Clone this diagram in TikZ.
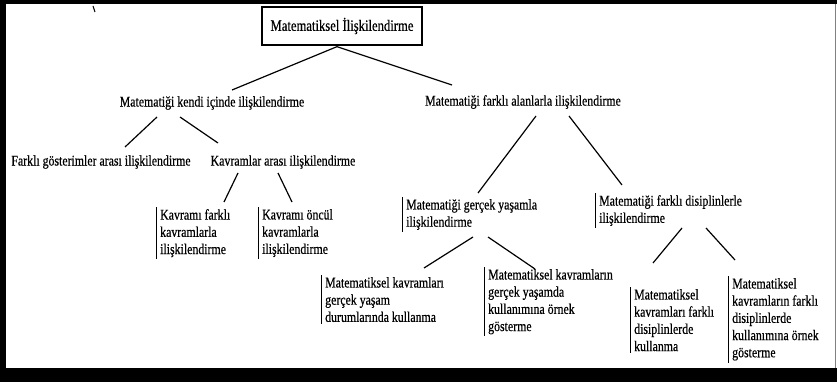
\documentclass[tikz,border=0pt]{standalone}
\usepackage{fontspec}
\setmainfont{Liberation Serif}[FakeStretch=0.8,FakeBold=0.5]
\usetikzlibrary{calc}
\tikzset{
  txt/.style={inner sep=0pt, font=\fontsize{14.8}{17}\selectfont},
  titlebox/.style={draw, line width=1.3pt, minimum width=160pt, minimum height=38pt, inner sep=0pt, font=\fontsize{15.8}{17}\selectfont},
  barbox/.style={anchor=north west, align=left, inner xsep=4pt, inner ysep=2pt,
    font=\fontsize{14.8}{17.2}\selectfont,
    append after command={(\tikzlastnode.north west) edge[barline] (\tikzlastnode.south west)}},
  barline/.style={draw, line width=1pt},
  link/.style={draw, line width=1.2pt}
}
\begin{document}
\begin{tikzpicture}[x=1pt,y=-1pt]
\useasboundingbox (0,0) rectangle (837,382);
\fill[black] (0,0) rectangle (837,382);
\fill[white] (6,4) rectangle (837,368);
\draw[gray, line width=1.5pt] (835.5,4) -- (835.5,368);
\draw[line width=1pt] (93,6) -- (95,12);

\node[titlebox] (t) at (342,26) {Matematiksel İlişkilendirme};

\node[txt] (k1) at (212,103) {Matematiği kendi içinde ilişkilendirme};
\node[txt] (k2) at (523,102) {Matematiği farklı alanlarla ilişkilendirme};

\node[txt] (f1) at (101,162) {Farklı gösterimler arası ilişkilendirme};
\node[txt] (f2) at (283,162) {Kavramlar arası ilişkilendirme};

\node[barbox] (g1) at (156,207) {Kavramı farklı\\kavramlarla\\ilişkilendirme};
\node[barbox] (g2) at (258,207) {Kavramı öncül\\kavramlarla\\ilişkilendirme};

\node[barbox] (h1) at (402,197) {Matematiği gerçek yaşamla\\ilişkilendirme};
\node[barbox] (h2) at (595,193) {Matematiği farklı disiplinlerle\\ilişkilendirme};

\node[barbox] (i1) at (321,275) {Matematiksel kavramları\\gerçek yaşam\\durumlarında kullanma};
\node[barbox] (i2) at (484,267) {Matematiksel kavramların\\gerçek yaşamda\\kullanımına örnek\\gösterme};

\node[barbox] (j1) at (630,287) {Matematiksel\\kavramları farklı\\disiplinlerde\\kullanma};
\node[barbox] (j2) at (728,276) {Matematiksel\\kavramların farklı\\disiplinlerde\\kullanımına örnek\\gösterme};

% connectors
\draw[link] ($(t.south)+(-5,1)$) -- ($(k1)+(20,-13)$);
\draw[link] ($(t.south)+(-5,1)$) -- ($(k2)+(-71,-17)$);

\draw[link] ($(k1)+(-55,14)$) -- ($(f1)+(24,-15)$);
\draw[link] ($(k1)+(-32,14)$) -- ($(f2)+(-65,-19)$);

\draw[link] ($(f2)+(-45,11)$) -- ($(g1.north west)+(68,-5)$);
\draw[link] ($(f2)+(-5,11)$) -- ($(g2.north west)+(34,-5)$);

\draw[link] ($(k2)+(13,14)$) -- ($(h1.north west)+(76,-4)$);
\draw[link] ($(k2)+(46,14)$) -- ($(h2.north west)+(27,-8)$);

\draw[link] ($(h1.north west)+(71,40)$) -- ($(i1.north west)+(103,-7)$);
\draw[link] ($(h1.north west)+(86,40)$) -- ($(i2.north west)+(51,2)$);

\draw[link] ($(h2.north west)+(87,35)$) -- ($(j1.north west)+(23,-24)$);
\draw[link] ($(h2.north west)+(111,35)$) -- ($(j2.north west)+(7,-16)$);
\end{tikzpicture}
\end{document}
